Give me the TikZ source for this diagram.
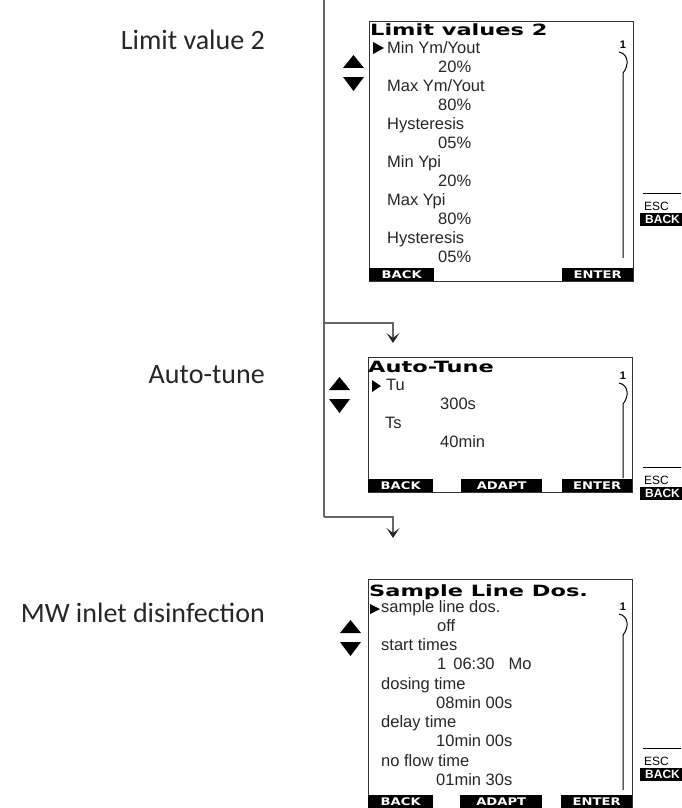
\documentclass[tikz,border=0pt]{standalone}
\usepackage{fontspec}
\usepackage{graphicx}
\setmainfont{Liberation Sans}
\newfontfamily\labelfont{Carlito}
\newfontfamily\headfont{DejaVu Sans}
\usetikzlibrary{arrows.meta}
\newcommand{\wide}[2][1.45]{\scalebox{#1}[1]{#2}}

\begin{document}
\begin{tikzpicture}[x=1pt, y=-1pt,
  every node/.style={inner sep=0pt},
  menu/.style={font=\labelfont\fontsize{28}{30}\selectfont, text=black!85, anchor=base east},
  screen/.style={draw=black!80, line width=0.9pt, anchor=north west},
  title/.style={font=\headfont\bfseries\fontsize{15.5}{16}\selectfont, anchor=base west},
  entry/.style={font=\fontsize{16.5}{18}\selectfont, text=black!85, anchor=base west},
  softkey/.style={fill=black, text=white, font=\headfont\bfseries\fontsize{10.5}{10}\selectfont,
                  minimum height=13pt, anchor=south west},
  pagenum/.style={font=\bfseries\fontsize{11}{11}\selectfont},
  link/.style={draw=black!60, line width=1.2pt},
  tip/.style={-{Stealth[length=10pt,width=13pt,inset=5pt,black!85]}}]
  \useasboundingbox (0,0) rectangle (681,808);

  % menu names on the left
  \node[menu] (m1) at (265,50)  {Limit value 2};
  \node[menu] (m2) at (265,383) {Auto-tune};
  \node[menu] (m3) at (265,622) {MW inlet disinfection};

  % flow line
  \coordinate (trunktop) at (324,0);
  \coordinate (fork1) at (324,323);
  \coordinate (fork2) at (324,517);
  \coordinate (tip1) at (393,343);
  \coordinate (tip2) at (393,538);
  \draw[link] (trunktop) -- (fork2);
  \draw[link, tip] (fork1) -| (tip1);
  \draw[link, tip] (fork2) -| (tip2);

  % screens
  \node[screen, minimum width=264pt, minimum height=260pt] (scr1) at (369,21) {};
  \node[screen, minimum width=264pt, minimum height=135pt] (scr2) at (368,357) {};
  \node[screen, minimum width=264pt, minimum height=230pt] (scr3) at (368,579) {};

  % screen 1
  \node[title] (ttl1) at (370,36) {\wide{Limit values 2}};
  \fill (373,42) -- (384,48) -- (373,54) -- cycle;
  \node[entry] (e1a) at (387,53)  {Min Ym/Yout};
  \node[entry] (e1b) at (438,72)  {20\%};
  \node[entry] (e1c) at (387,91)  {Max Ym/Yout};
  \node[entry] (e1d) at (438,110) {80\%};
  \node[entry] (e1e) at (387,129) {Hysteresis};
  \node[entry] (e1f) at (438,148) {05\%};
  \node[entry] (e1g) at (387,167) {Min Ypi};
  \node[entry] (e1h) at (438,186) {20\%};
  \node[entry] (e1i) at (387,205) {Max Ypi};
  \node[entry] (e1j) at (438,224) {80\%};
  \node[entry] (e1k) at (387,243) {Hysteresis};
  \node[entry] (e1l) at (438,262) {05\%};
  \node[softkey, minimum width=65pt] (k1back)  at (369,281) {\wide[1.25]{BACK}};
  \node[softkey, minimum width=71pt] (k1enter) at (562,281) {\wide[1.25]{ENTER}};

  % screen 2
  \node[title] (ttl2) at (368,372) {\wide{Auto-Tune}};
  \fill (372,380) -- (381,386) -- (372,392) -- cycle;
  \node[entry] (e2a) at (386,390) {Tu};
  \node[entry] (e2b) at (440,409) {300s};
  \node[entry] (e2c) at (385,428) {Ts};
  \node[entry] (e2d) at (440,447) {40min};
  \node[softkey, minimum width=65pt] (k2back)  at (368,492) {\wide[1.25]{BACK}};
  \node[softkey, minimum width=81pt] (k2adapt) at (461,492) {\wide[1.25]{ADAPT}};
  \node[softkey, minimum width=70pt] (k2enter) at (562,492) {\wide[1.25]{ENTER}};

  % screen 3
  \node[title] (ttl3) at (369,596) {\wide{Sample Line Dos.}};
  \fill (370,604) -- (380,609) -- (370,614) -- cycle;
  \node[entry] (e3a) at (381,612) {sample line dos.};
  \node[entry] (e3b) at (437,631) {off};
  \node[entry] (e3c) at (381,650) {start times};
  \node[entry] (e3d) at (437,669) {1\hspace{7pt}06:30\hspace{14pt}Mo};
  \node[entry] (e3e) at (381,689) {dosing time};
  \node[entry] (e3f) at (436,708) {08min 00s};
  \node[entry] (e3g) at (381,727) {delay time};
  \node[entry] (e3h) at (436,746) {10min 00s};
  \node[entry] (e3i) at (381,766) {no flow time};
  \node[entry] (e3j) at (436,785) {01min 30s};
  \node[softkey, minimum width=65pt] (k3back)  at (368,808) {\wide[1.25]{BACK}};
  \node[softkey, minimum width=82pt] (k3adapt) at (460,808) {\wide[1.25]{ADAPT}};
  \node[softkey, minimum width=71pt] (k3enter) at (561,808) {\wide[1.25]{ENTER}};

  % up/down keys
  \foreach \x/\y in {343/55, 329/377, 340/620} {
    \fill (\x,\y+13) -- (\x+21,\y+13) -- (\x+10.5,\y) -- cycle;
    \fill (\x,\y+22) -- (\x+21,\y+22) -- (\x+10.5,\y+36) -- cycle;
  }

  % scroll bars
  \foreach \n/\ya/\yb in {1/52/258, 2/383/478, 3/614/790} {
    \node[pagenum] (page\n) at (623,\ya-7) {1};
    \draw[line width=1pt] (619,\ya) .. controls (629,\ya+2) and (629,\ya+14) .. (623,\ya+21) -- (623,\yb);
  }

  % ESC / BACK keys
  \foreach \n/\y in {1/193, 2/467, 3/748} {
    \draw[line width=0.8pt] (643,\y) -- (681,\y);
    \node[font=\fontsize{12}{12}\selectfont, anchor=base west] (esc\n) at (644,\y+17) {ESC};
    \node[fill=black, text=white, font=\bfseries\fontsize{12}{12}\selectfont, anchor=north west,
          inner xsep=5pt, minimum height=13pt] (back\n) at (640,\y+20) {BACK};
  }
\end{tikzpicture}
\end{document}
